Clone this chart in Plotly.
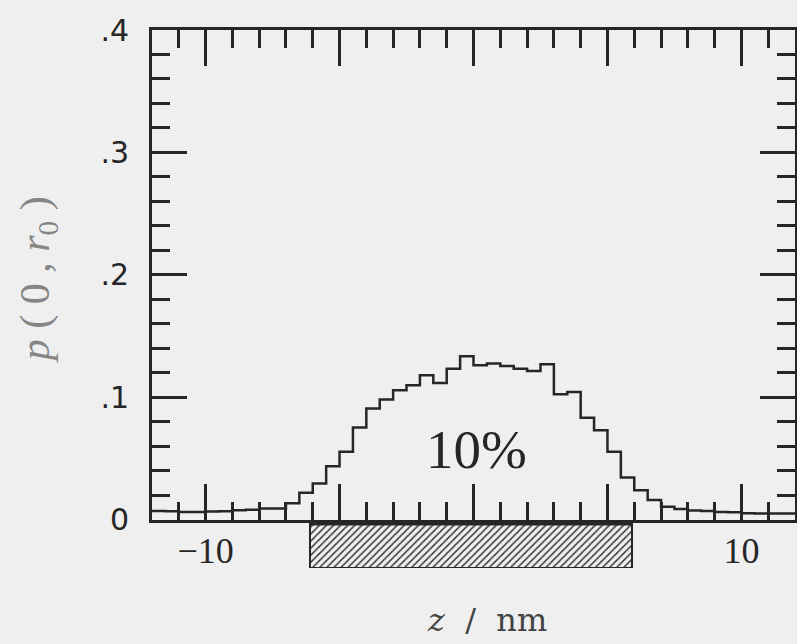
import numpy as np
import plotly.graph_objects as go

# Histogram of p(0, r0) along the bilayer normal z (0.5 nm bins, -12 .. 12 nm)
bin_edges = np.arange(-12.0, 12.0 + 0.25, 0.5)
p_values = [
    0.0070, 0.0068, 0.0062, 0.0062, 0.0066, 0.0068, 0.0076, 0.0080,
    0.0090, 0.0091, 0.0132, 0.0219, 0.0295, 0.0436, 0.0553, 0.0752,
    0.0907, 0.0980, 0.1056, 0.1097, 0.1179, 0.1116, 0.1233, 0.1334,
    0.1260, 0.1274, 0.1255, 0.1233, 0.1214, 0.1268, 0.1024, 0.1043,
    0.0831, 0.0730, 0.0553, 0.0344, 0.0240, 0.0159, 0.0104, 0.0086,
    0.0074, 0.0070, 0.0062, 0.0060, 0.0052, 0.0050, 0.0050, 0.0050,
]

# Extent of the membrane slab drawn under the axis (nm)
slab_z = [-6.1, 5.9]

x_major_ticks = [-10, -5, 0, 5, 10]
x_label_vals = [-10, 10]
x_label_text = ["\u221210", "10"]
y_tick_vals = [0, 0.1, 0.2, 0.3, 0.4]
y_tick_text = ["0", ".1", ".2", ".3", ".4"]

label_text = "10%"

ink = "#262626"
bg = "#efefef"

fig = go.Figure()

# step outline of the histogram
fig.add_trace(go.Scatter(
    x=bin_edges, y=p_values + [p_values[-1]],
    mode="lines", line=dict(shape="hv", color=ink, width=2.5),
    xaxis="x", yaxis="y", hoverinfo="skip", showlegend=False,
))

# empty trace that carries the labelled bottom axis
fig.add_trace(go.Scatter(x=[], y=[], xaxis="x3", yaxis="y",
                         hoverinfo="skip", showlegend=False))

# hatched membrane slab below the axis
slab_center = (slab_z[0] + slab_z[1]) / 2
slab_width = slab_z[1] - slab_z[0]
fig.add_trace(go.Bar(
    x=[slab_center], y=[1], base=0, width=[slab_width],
    marker=dict(color=bg, line=dict(color=ink, width=2),
                pattern=dict(shape="/", fgcolor="#3a3a3a", bgcolor=bg,
                             size=5, solidity=0.3)),
    xaxis="x2", yaxis="y2", hoverinfo="skip", showlegend=False,
))
fig.add_trace(go.Scatter(
    x=slab_z, y=[1, 1], mode="lines", line=dict(color=ink, width=5),
    xaxis="x2", yaxis="y2", hoverinfo="skip", showlegend=False,
    cliponaxis=False,
))

axis_common = dict(
    showline=True, linewidth=3, linecolor=ink, mirror="ticks",
    ticks="inside", tickwidth=2.5, tickcolor=ink,
    showgrid=False, zeroline=False, automargin=False,
)

fig.update_layout(
    width=797, height=644,
    template="none",
    margin=dict(l=152, r=2, t=30, b=76),
    paper_bgcolor=bg, plot_bgcolor=bg,
    bargap=0,
    xaxis=dict(
        **axis_common, domain=[0, 1], range=[-12, 12], anchor="y",
        tickvals=x_major_ticks, ticklen=36, showticklabels=False,
        minor=dict(dtick=1, tick0=0, ticklen=18, tickwidth=2.5,
                   tickcolor=ink, ticks="inside"),
    ),
    xaxis3=dict(
        overlaying="x", anchor="y", side="bottom", range=[-12, 12],
        tickvals=x_label_vals, ticktext=x_label_text, ticks="",
        showline=False, showgrid=False, zeroline=False, automargin=False,
        tickfont=dict(family="Liberation Serif", size=36, color=ink),
        ticklabelstandoff=6,
    ),
    yaxis=dict(
        **axis_common, domain=[0.0901, 1], range=[0, 0.4], anchor="x",
        tickvals=y_tick_vals, ticktext=y_tick_text, ticklen=35,
        tickfont=dict(family="DejaVu Sans", size=30, color=ink),
        ticklabelstandoff=14,
        minor=dict(dtick=0.02, tick0=0, ticklen=18, tickwidth=2.5,
                   tickcolor=ink, ticks="inside"),
    ),
    xaxis2=dict(domain=[0, 1], range=[-12, 12], anchor="y2", visible=False),
    yaxis2=dict(domain=[0, 0.0836], range=[0, 1], anchor="x2", visible=False),
    annotations=[
        dict(text=label_text, x=0.13, y=0.0575, xref="x", yref="y",
             showarrow=False, xanchor="center", yanchor="middle",
             font=dict(family="Liberation Serif", size=55, color=ink)),
        dict(text="<i>z</i>  /  nm", x=0.5217, y=-0.0967,
             xref="paper", yref="paper", showarrow=False,
             xanchor="center", yanchor="middle",
             font=dict(family="DejaVu Serif", size=32, color="#444444")),
        dict(text="<i>p</i> ( 0 , <i>r</i><sub>0</sub> )", textangle=-90,
             x=-0.177, y=0.535, xref="paper", yref="paper",
             showarrow=False, xanchor="center", yanchor="middle",
             font=dict(family="Liberation Serif", size=42, color="#858585")),
    ],
)

fig.write_html("out.html")
